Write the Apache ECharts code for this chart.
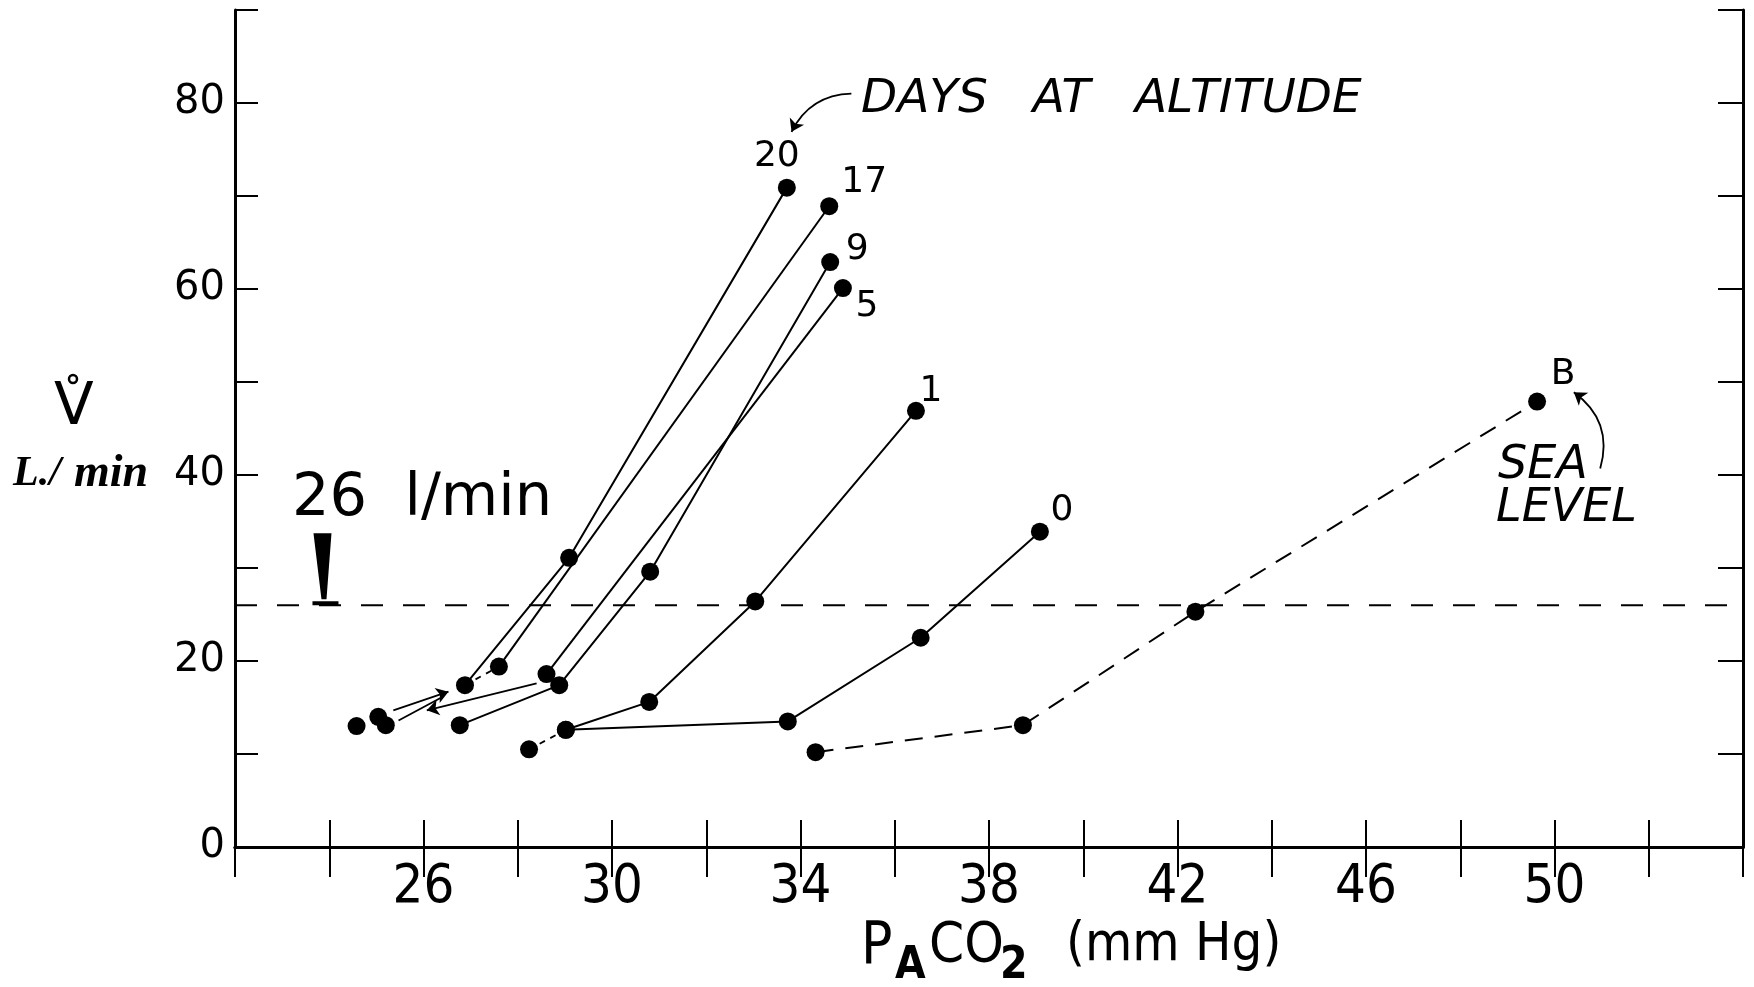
<!DOCTYPE html>
<html>
<head>
<meta charset="utf-8">
<script src="https://cdn.jsdelivr.net/npm/echarts@6/dist/echarts.min.js"></script>
<style>
  html, body { margin: 0; padding: 0; background: #fff; }
  #main { width: 1754px; height: 987px; }
</style>
</head>
<body>
<div id="main"></div>
<script>
// values: [PACO2 mmHg, V l/min]
var xRange = [22, 54];
var yRange = [0, 90];
var xLabels = [26, 30, 34, 38, 42, 46, 50];
var yLabels = [0, 20, 40, 60, 80];
var level26 = 26;
var wedgeX = 23.92;

var day20 = [[26.88, 17.4], [29.09, 31.1], [33.71, 70.9]];
var day17 = [[27.60, 19.4], [34.61, 68.9]];
var day9 = [[26.77, 13.1], [28.88, 17.4], [30.81, 29.6], [34.63, 62.9]];
var day5 = [[28.61, 18.6], [34.90, 60.1]];
var day1 = [[29.02, 12.6], [30.79, 15.6], [33.04, 26.4], [36.45, 46.9]];
var day0 = [[29.02, 12.6], [33.73, 13.5], [36.55, 22.5], [39.08, 33.9]];
var seaLevel = [[34.32, 10.2], [38.72, 13.1], [42.38, 25.3], [49.63, 47.9]];
var loosePoints = [[24.58, 13.0], [25.04, 14.0], [25.20, 13.1], [28.24, 10.5]];

var dashLinks = [[[28.24, 10.5], [29.02, 12.6]], [[26.88, 17.4], [27.60, 19.4]]];
var arrowLinks = [[[25.36, 14.7], [26.53, 16.7]], [[28.40, 17.6], [26.07, 14.7]]];
var plainLinks = [[[25.47, 13.6], [26.39, 16.1]]];
var daysArrow = [[35.08, 81.0], [33.81, 76.9]];
var seaArrow = [[50.97, 40.7], [50.41, 48.9]];

// label offsets (px) from the last point of each curve
var labelOffsets = {
  '20': [-10, -31], '17': [35, -24], '9': [27, -12], '5': [24, 19],
  '1': [15, -19], '0': [22, -21], 'B': [26, -27]
};

var chart = echarts.init(document.getElementById('main'));

function curve(name, pts, dashed) {
  return {
    type: 'line',
    name: name,
    data: pts.map(function (p, i) {
      if (i == pts.length - 1) {
        return { value: p, label: { show: true, formatter: name, offset: labelOffsets[name] } };
      }
      return p;
    }),
    symbol: 'circle',
    symbolSize: 18,
    itemStyle: { color: '#000', opacity: 1 },
    lineStyle: { color: '#000', width: 2, type: dashed ? [18, 12] : 'solid' },
    label: { show: false, position: 'inside', fontSize: 36, fontFamily: 'DejaVu Sans', color: '#000' },
    z: 3
  };
}

function links(list, arrow, dash, curveness) {
  return {
    type: 'lines',
    coordinateSystem: 'cartesian2d',
    symbol: arrow ? ['none', 'arrow'] : ['none', 'none'],
    symbolSize: arrow ? 12 : 0,
    lineStyle: { color: '#000', width: 1.8, opacity: 1, type: dash ? [6, 6] : 'solid', curveness: curveness || 0 },
    data: list.map(function (c) { return { coords: c }; }),
    z: 2
  };
}

var condFont = "'DejaVu Sans Condensed', 'Liberation Sans Narrow', sans-serif";

function txt(x, y, s, size, extra) {
  var style = { text: s, fontSize: size, fontFamily: 'DejaVu Sans', fill: '#000', align: 'left', verticalAlign: 'middle' };
  for (var k in extra) style[k] = extra[k];
  return { type: 'text', x: x, y: y, style: style };
}

var option = {
  animation: false,
  backgroundColor: '#fff',
  grid: { left: 235, right: 11, top: 10, bottom: 140 },
  xAxis: [{
    type: 'value', min: xRange[0], max: xRange[1], interval: 2, position: 'bottom',
    axisLine: { lineStyle: { color: '#000', width: 3 } },
    axisTick: { inside: true, length: 27, lineStyle: { color: '#000', width: 2 } },
    axisLabel: {
      color: '#000', fontSize: 54, fontFamily: condFont, margin: 14,
      formatter: function (v) { return xLabels.indexOf(v) >= 0 ? String(v) : ''; }
    },
    splitLine: { show: false }
  }, {
    type: 'value', min: xRange[0], max: xRange[1], interval: 2, position: 'top',
    axisLine: { lineStyle: { color: '#000', width: 3 } },
    axisTick: { inside: true, length: 30, lineStyle: { color: '#000', width: 2 } },
    axisLabel: { show: false },
    splitLine: { show: false }
  }],
  yAxis: [{
    type: 'value', min: yRange[0], max: yRange[1], interval: 10, position: 'left',
    axisLine: { lineStyle: { color: '#000', width: 3 } },
    axisTick: { inside: true, length: 23, lineStyle: { color: '#000', width: 2 } },
    axisLabel: {
      color: '#000', fontSize: 40, fontFamily: 'DejaVu Sans', margin: 10,
      formatter: function (v) { return yLabels.indexOf(v) >= 0 ? String(v) : ''; }
    },
    splitLine: { show: false }
  }, {
    type: 'value', min: yRange[0], max: yRange[1], interval: 10, position: 'right',
    axisLine: { lineStyle: { color: '#000', width: 3 } },
    axisTick: { inside: true, length: 25, lineStyle: { color: '#000', width: 2 } },
    axisLabel: { show: false },
    splitLine: { show: false }
  }],
  series: [
    {
      type: 'line',
      data: [[xRange[0], level26], [xRange[1], level26]],
      showSymbol: false,
      lineStyle: { color: '#000', width: 2, type: [22, 20] },
      markPoint: {
        symbol: 'path://M1,0 L19,0 L14,66 L9,66 Z M0,68 L26,68 L26,72 L0,72 Z',
        symbolSize: [26, 72],
        symbolOffset: [0, '-50%'],
        itemStyle: { color: '#000' },
        label: { show: false },
        data: [{ coord: [wedgeX, level26] }]
      },
      z: 1
    },
    curve('20', day20),
    curve('17', day17),
    curve('9', day9),
    curve('5', day5),
    curve('1', day1),
    curve('0', day0),
    curve('B', seaLevel, true),
    {
      type: 'scatter',
      data: loosePoints,
      symbolSize: 18,
      itemStyle: { color: '#000', opacity: 1 },
      z: 3
    },
    links(dashLinks, false, true),
    links(plainLinks, false, false),
    links(arrowLinks, true, false),
    links([daysArrow], true, false, -0.3),
    links([seaArrow], true, false, -0.35)
  ],
  graphic: [
    txt(292, 500, '26  l/min', 59),
    txt(861, 100, 'DAYS   AT   ALTITUDE', 47, { fontStyle: 'italic' }),
    txt(1498, 466, 'SEA', 46, { fontStyle: 'italic' }),
    txt(1496, 509, 'LEVEL', 46, { fontStyle: 'italic' }),
    // x axis name: P A CO 2 (mm Hg)
    txt(861, 948, 'P', 58, { fontFamily: condFont }),
    txt(895, 967, 'A', 44, { fontFamily: condFont, fontWeight: 'bold' }),
    txt(929, 946, 'CO', 56, { fontFamily: condFont }),
    txt(1000, 967, '2', 44, { fontFamily: condFont, fontWeight: 'bold' }),
    txt(1066, 946, '(mm Hg)', 54, { fontFamily: condFont }),
    // y axis name
    txt(54, 409, 'V', 58),
    { type: 'circle', shape: { cx: 73, cy: 379, r: 4 }, style: { fill: '#fff', stroke: '#000', lineWidth: 2.5 } },
    txt(13, 474, 'L./', 42, { fontStyle: 'italic', fontWeight: 'bold', fontFamily: 'Liberation Serif' }),
    txt(74, 474, 'min', 46, { fontStyle: 'italic', fontWeight: 'bold', fontFamily: 'Liberation Serif' })
  ]
};

chart.setOption(option);
</script>
</body>
</html>
